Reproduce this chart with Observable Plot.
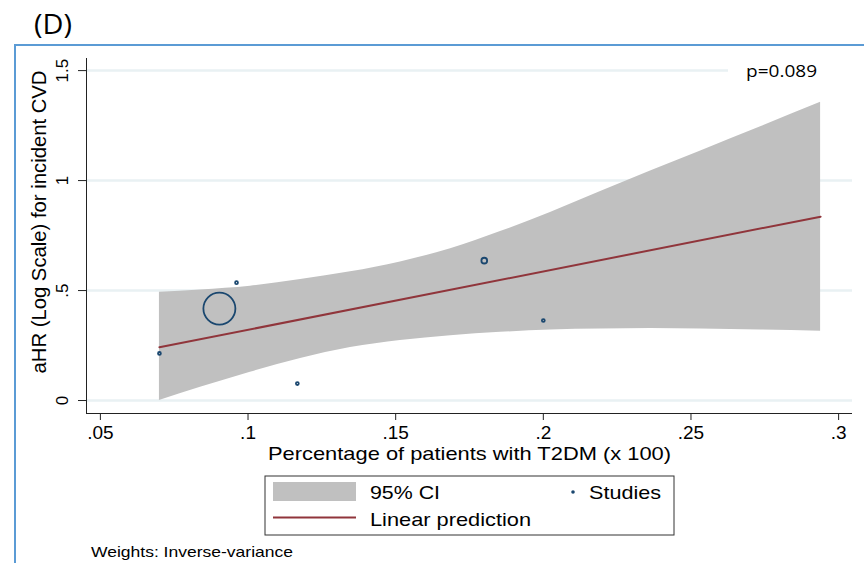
<!DOCTYPE html>
<html>
<head>
<meta charset="utf-8">
<script src="https://cdn.jsdelivr.net/npm/d3@7"></script>
<script src="https://cdn.jsdelivr.net/npm/@observablehq/plot@0.6"></script>
<style>
  html, body { margin: 0; padding: 0; background: #fff; }
</style>
</head>
<body>
<div id="chart"></div>
<script>
// ---- data ----
const xTicks = [0.05, 0.10, 0.15, 0.20, 0.25, 0.30];
const yTicks = [0, 0.5, 1, 1.5];

const studyX = [0.070, 0.0903, 0.0961, 0.1167, 0.180, 0.200];
const studyY = [0.214, 0.418, 0.536, 0.077, 0.636, 0.364];
const studyWeight = [2, 250, 2, 2, 8, 2];

const bandX     = [0.0700, 0.0839, 0.1008, 0.1178, 0.1347, 0.1516, 0.1686, 0.1855, 0.2024, 0.2194, 0.2363, 0.2533, 0.2736, 0.2939];
const bandUpper = [0.492, 0.503, 0.520, 0.550, 0.585, 0.630, 0.690, 0.768, 0.855, 0.950, 1.043, 1.135, 1.245, 1.356];
const bandLower = [0.000, 0.060, 0.129, 0.191, 0.241, 0.273, 0.295, 0.310, 0.321, 0.325, 0.327, 0.325, 0.321, 0.315];

const fitX = [0.070, 0.2939];
const fitY = [0.242, 0.836];

const pText = "p=0.089";
const panelLabel = "(D)";
const xTitle = "Percentage of patients with T2DM (x 100)";
const yTitle = "aHR (Log Scale) for incident CVD";
const legendCI = "95% CI";
const legendStudies = "Studies";
const legendFit = "Linear prediction";
const note = "Weights: Inverse-variance";

// ---- tables for the library ----
const studies = studyX.map((x, i) => ({x, y: studyY[i], w: studyWeight[i]}));
const band = bandX.map((x, i) => ({x, hi: bandUpper[i], lo: bandLower[i]}));
const fit = fitX.map((x, i) => ({x, y: fitY[i]}));

const fmt = d => d === 0 ? "0" : String(d).replace(/^0\./, ".");

const NAVY = "#1a476f", MAROON = "#90353b", GREY = "#c0c0c0", GRID = "#e9f1f3";
const FONT = "'Liberation Sans', Arial, Helvetica, sans-serif";
const SANS2 = "'Open Sans', 'Noto Sans', sans-serif";

const xDom = [0.0453, 0.3047];
const yDom = [-0.059, 1.555];

const chart = Plot.plot({
  width: 864,
  height: 563,
  marginLeft: 86,
  marginRight: 12,
  marginTop: 58,
  marginBottom: 150,
  style: {fontFamily: FONT, fontSize: "18px", color: "#000", background: "#fff"},
  x: {domain: xDom},
  y: {domain: yDom},
  r: {type: "sqrt", domain: [0, 250], range: [0, 16]},
  marks: [
    Plot.ruleY(yTicks, {stroke: GRID, strokeWidth: 2.5}),
    Plot.areaY(band, {x: "x", y1: "lo", y2: "hi", fill: GREY, curve: "monotone-x"}),
    Plot.line(fit, {x: "x", y: "y", stroke: MAROON, strokeWidth: 2}),
    Plot.dot(studies, {x: "x", y: "y", r: "w", stroke: NAVY, strokeWidth: 1.8, fill: "none"}),
    Plot.ruleX([xDom[0]], {y1: yDom[0], y2: yDom[1], stroke: "#222", strokeWidth: 1}),
    Plot.ruleY([yDom[0]], {x1: xDom[0], x2: xDom[1], stroke: "#222", strokeWidth: 1}),
    Plot.axisX({ticks: xTicks, tickFormat: fmt, tickSize: 7, tickPadding: 5, label: null, fontSize: 19, stroke: "#222"}),
    Plot.axisY({ticks: yTicks, tickFormat: () => "", tickSize: 8, label: null, stroke: "#222"}),
    Plot.text(yTicks, {y: d => d, text: fmt, frameAnchor: "left", dx: -19, rotate: -90,
                       textAnchor: "middle", lineAnchor: "bottom", fontSize: 17, fill: "#000"})
  ]
});
document.getElementById("chart").appendChild(chart);

// ---- annotations: titles, panel label, p-value, legend, note ----
const svg = d3.select(chart);
const ann = svg.append("g").attr("text-anchor", "start");

function addText(g, x, y, str, size, len, family, anchor) {
  const t = g.append("text")
    .attr("x", x).attr("y", y)
    .attr("font-family", family || FONT)
    .attr("font-size", size)
    .attr("fill", "#000")
    .attr("text-anchor", anchor || "start")
    .text(str);
  if (len) t.attr("textLength", len).attr("lengthAdjust", "spacingAndGlyphs");
  return t;
}

// blue slide frame
ann.append("rect").attr("x", 15).attr("y", 45).attr("width", 900).attr("height", 600)
  .attr("fill", "none").attr("stroke", "#5b9bd5").attr("stroke-width", 2);

// panel label
addText(ann, 34, 34, panelLabel, 27, 38, SANS2);

// p-value box
ann.append("rect").attr("x", 728).attr("y", 59).attr("width", 124).attr("height", 24).attr("fill", "#fff");
addText(ann, 746, 77, pText, 17, 71, SANS2);

// axis titles
addText(ann, 268, 460, xTitle, 19, 403);
addText(ann, 0, 0, yTitle, 20, 303, FONT, "middle")
  .attr("transform", "translate(46,222) rotate(-90)");

// legend
ann.append("rect").attr("x", 265).attr("y", 476).attr("width", 409).attr("height", 59)
  .attr("fill", "#fff").attr("stroke", "#333").attr("stroke-width", 1);
ann.append("rect").attr("x", 273).attr("y", 482).attr("width", 83).attr("height", 19).attr("fill", GREY);
addText(ann, 370, 499, legendCI, 19, 70);
ann.append("circle").attr("cx", 573).attr("cy", 492).attr("r", 1.8).attr("fill", NAVY);
addText(ann, 589, 499, legendStudies, 19, 72);
ann.append("line").attr("x1", 273).attr("x2", 356).attr("y1", 517.5).attr("y2", 517.5)
  .attr("stroke", MAROON).attr("stroke-width", 2);
addText(ann, 370, 526, legendFit, 19, 161);

// note
addText(ann, 91, 557, note, 15, 202);
</script>
</body>
</html>
